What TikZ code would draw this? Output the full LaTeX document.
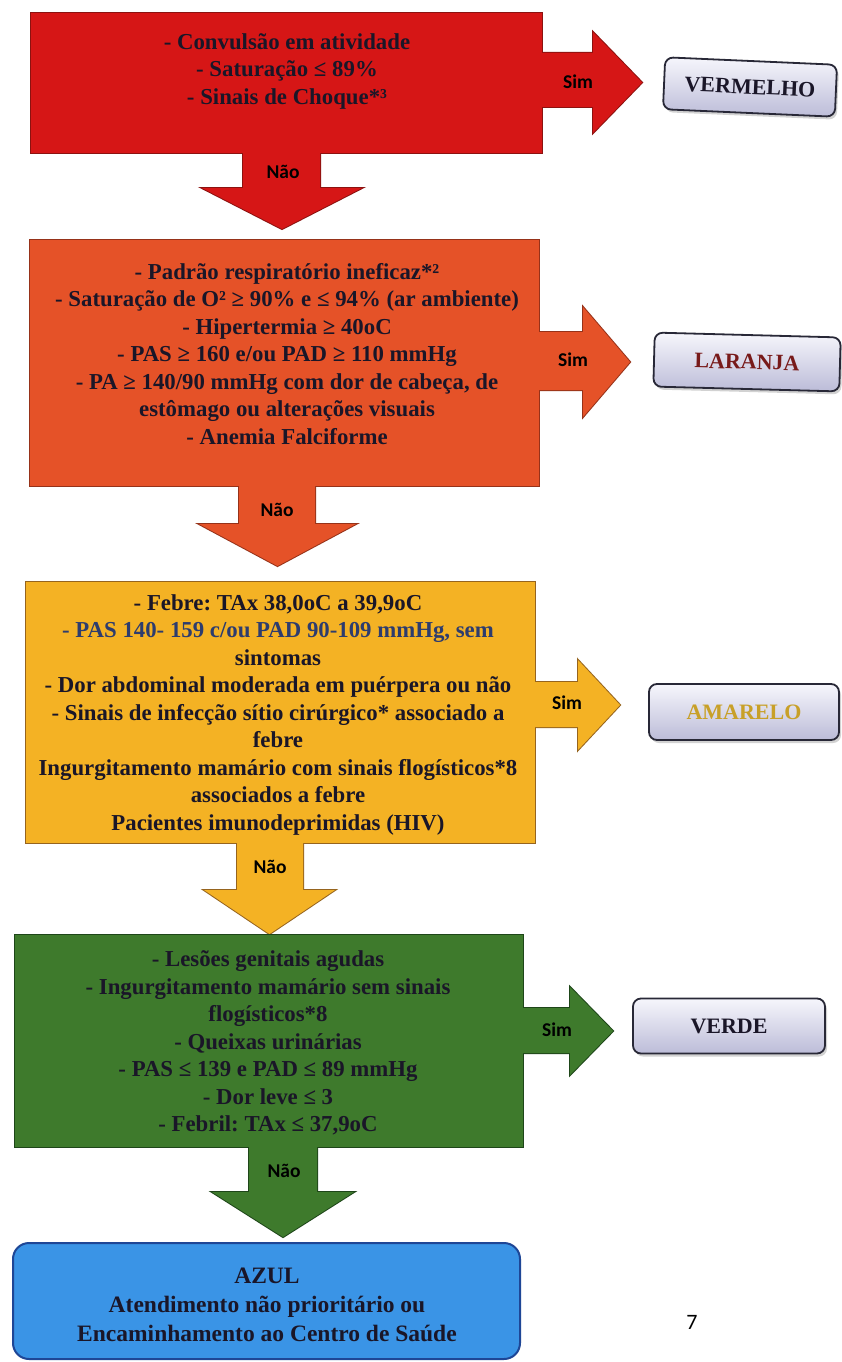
\documentclass[tikz,border=0pt]{standalone}
\usepackage{fontspec}
\setmainfont{Liberation Serif}
\newfontfamily\critserif{Liberation Serif}
\newfontfamily\labelsans{Carlito}
\usetikzlibrary{shadows}

% level colours
\definecolor{redfill}{RGB}{214,22,22}
\definecolor{redline}{RGB}{140,18,16}
\definecolor{orgfill}{RGB}{229,82,40}
\definecolor{orgline}{RGB}{150,50,25}
\definecolor{yelfill}{RGB}{244,178,36}
\definecolor{yelline}{RGB}{150,100,30}
\definecolor{grnfill}{RGB}{62,122,44}
\definecolor{grnline}{RGB}{30,70,25}
\definecolor{bluefill}{RGB}{58,148,230}
\definecolor{blueline}{RGB}{30,70,150}
\definecolor{inktext}{RGB}{26,22,40}
\definecolor{bluetext}{RGB}{45,60,110}
\definecolor{tagtop}{RGB}{246,246,252}
\definecolor{tagbottom}{RGB}{188,188,216}
\definecolor{tagline}{RGB}{40,40,55}
\definecolor{maroon}{RGB}{120,26,26}
\definecolor{gold}{RGB}{200,160,40}

\tikzset{
  box/.style={inner sep=0pt, outer sep=0pt},
  outline/.style={draw=#1, line width=2pt, line join=miter},
  rarrow/.style n args={7}{insert path={(#1,#2) -- (#4,#2) -- (#4,#5) -- (#7,{(#5+#6)/2}) -- (#4,#6) -- (#4,#3) -- (#1,#3) -- cycle}},
  darrow/.style n args={7}{insert path={(#1,#3) -- (#1,#4) -- (#5,#4) -- ({(#5+#6)/2},#7) -- (#6,#4) -- (#2,#4) -- (#2,#3) -- cycle}},
  crit/.style={align=center, text=inktext, font=\critserif\bfseries\fontsize{22.8}{27.5}\selectfont\frenchspacing},
  yesno/.style={text=black, font=\labelsans\bfseries\fontsize{19.5}{21}\selectfont},
  tag/.style={draw=tagline, line width=1.8pt, rounded corners=8pt,
    top color=tagtop, bottom color=tagbottom,
    drop shadow={opacity=0.35, shadow xshift=2pt, shadow yshift=-3pt},
    font=\critserif\bfseries\fontsize{22}{24}\selectfont, inner sep=0pt},
}

\begin{document}
\begin{tikzpicture}[x=1pt, y=-1pt]
\fill[white] (0,0) rectangle (841,1362);
\useasboundingbox (0,0) rectangle (841,1362);

% ---------------- box frames (named) ----------------
\node[box, minimum width=511pt, minimum height=140pt, anchor=north west] (red) at (31,13) {};
\node[box, minimum width=509pt, minimum height=246pt, anchor=north west] (orange) at (30,240) {};
\node[box, minimum width=509pt, minimum height=261pt, anchor=north west] (yellow) at (26,582) {};
\node[box, minimum width=508pt, minimum height=212pt, anchor=north west] (green) at (15,935) {};

% ---------------- outlines first, fills on top (arrows fuse with boxes) ----------------
\draw[outline=redline] (red.north west) rectangle (red.south east);
\draw[outline=redline] [rarrow={538}{53}{107}{593}{32}{133}{642}];
\draw[outline=redline] [darrow={243}{320}{149}{188}{202}{362}{229}];
\fill[redfill] (red.north west) rectangle (red.south east);
\fill[redfill] [rarrow={538}{53}{107}{593}{32}{133}{642}];
\fill[redfill] [darrow={243}{320}{149}{188}{202}{362}{229}];

\draw[outline=orgline] (orange.north west) rectangle (orange.south east);
\draw[outline=orgline] [rarrow={535}{332}{390}{583}{307}{417}{630}];
\draw[outline=orgline] [darrow={239}{315}{482}{524}{199}{356}{566}];
\fill[orgfill] (orange.north west) rectangle (orange.south east);
\fill[orgfill] [rarrow={535}{332}{390}{583}{307}{417}{630}];
\fill[orgfill] [darrow={239}{315}{482}{524}{199}{356}{566}];

\draw[outline=yelline] (yellow.north west) rectangle (yellow.south east);
\draw[outline=yelline] [rarrow={531}{682}{727}{578}{660}{750}{620}];
\draw[outline=yelline] [darrow={237}{303}{839}{890}{204}{335}{934}];
\fill[yelfill] (yellow.north west) rectangle (yellow.south east);
\fill[yelfill] [rarrow={531}{682}{727}{578}{660}{750}{620}];
\fill[yelfill] [darrow={237}{303}{839}{890}{204}{335}{934}];

\draw[outline=grnline] (green.north west) rectangle (green.south east);
\draw[outline=grnline] [rarrow={519}{1008}{1053}{570}{987}{1075}{613}];
\draw[outline=grnline] [darrow={249}{317}{1143}{1192}{212}{354}{1237}];
\fill[grnfill] (green.north west) rectangle (green.south east);
\fill[grnfill] [rarrow={519}{1008}{1053}{570}{987}{1075}{613}];
\fill[grnfill] [darrow={249}{317}{1143}{1192}{212}{354}{1237}];

% final box
\node[box, minimum width=507pt, minimum height=116pt, anchor=north west,
      draw=blueline, line width=2pt, fill=bluefill, rounded corners=16pt] (blue) at (13,1243) {};

% ---------------- criteria ----------------
\node[crit] (redtxt) at (287,71) {- Convulsão em atividade\\- Saturação ≤ 89\%\\- Sinais de Choque*³};
\node[crit] (orgtxt) at (287,354) {- Padrão respiratório ineficaz*²\\
  - Saturação de O² ≥ 90\% e ≤ 94\% (ar ambiente)\\
  - Hipertermia ≥ 40oC\\
  - PAS ≥ 160 e/ou PAD ≥ 110 mmHg\\
  - PA ≥ 140/90 mmHg com dor de cabeça, de\\
  estômago ou alterações visuais\\
  - Anemia Falciforme};
\node[crit] (yeltxt) at (278,715) {- Febre: TAx 38,0oC a 39,9oC\\
  \textcolor{bluetext}{- PAS 140- 159 c/ou PAD 90-109 mmHg, sem}\\
  sintomas\\
  - Dor abdominal moderada em puérpera ou não\\
  - Sinais de infecção sítio cirúrgico* associado a\\
  febre\\
  Ingurgitamento mamário com sinais flogísticos*8\\
  associados a febre\\
  Pacientes imunodeprimidas (HIV)};
\node[crit] (grntxt) at (268,1043) {- Lesões genitais agudas\\
  - Ingurgitamento mamário sem sinais\\
  flogísticos*8\\
  - Queixas urinárias\\
  - PAS ≤ 139 e PAD ≤ 89 mmHg\\
  - Dor leve ≤ 3\\
  - Febril: TAx ≤ 37,9oC};
\node[crit, font=\critserif\bfseries\fontsize{23.5}{29}\selectfont] (bluetxt) at (267,1305)
  {AZUL\\Atendimento não prioritário ou\\Encaminhamento ao Centro de Saúde};

% ---------------- yes / no labels ----------------
\node[yesno] (sim1) at (578,82) {Sim};
\node[yesno] (sim2) at (573,360) {Sim};
\node[yesno] (sim3) at (567,703) {Sim};
\node[yesno] (sim4) at (557,1030) {Sim};
\node[yesno] (nao1) at (283,172) {Não};
\node[yesno] (nao2) at (277,510) {Não};
\node[yesno] (nao3) at (270,867) {Não};
\node[yesno] (nao4) at (284,1171) {Não};

% ---------------- priority tags ----------------
\node[tag, minimum width=172pt, minimum height=52pt, rotate=-2.5, text=inktext] (vermelho) at (750,87) {VERMELHO};
\node[tag, minimum width=186pt, minimum height=54pt, rotate=-1.5, text=maroon] (laranja) at (747,362) {LARANJA};
\node[tag, minimum width=190pt, minimum height=56pt, text=gold] (amarelo) at (744,712) {AMARELO};
\node[tag, minimum width=192pt, minimum height=55pt, text=inktext] (verde) at (729,1026) {VERDE};

% page number
\node[font=\labelsans\fontsize{22}{24}\selectfont, text=black] (page) at (692,1322) {7};
\end{tikzpicture}
\end{document}
